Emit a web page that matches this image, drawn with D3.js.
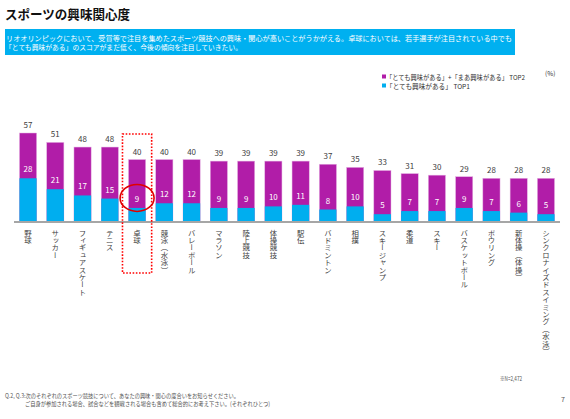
<!DOCTYPE html>
<html><head><meta charset="utf-8">
<script src="https://cdn.jsdelivr.net/npm/d3@7"></script>
<style>
body{margin:0;background:#fff;}
svg{display:block;font-family:"Noto Sans CJK JP","Noto Sans",sans-serif;}
</style></head>
<body>
<svg id="c" width="570" height="419"></svg>
<script>
const categories = ["野球","サッカー","フィギュアスケート","テニス","卓球","競泳（水泳）","バレーボール","マラソン","陸上競技","体操競技","駅伝","バドミントン","相撲","スキージャンプ","柔道","スキー","バスケットボール","ボウリング","新体操（体操）","シンクロナイズドスイミング（水泳）"];
const top2 = [57,51,48,48,40,40,40,39,39,39,39,37,35,33,31,30,29,28,28,28];
const top1 = [28,21,17,15,9,12,12,9,9,10,11,8,10,5,7,7,9,7,6,5];
const legendLabels = ["「とても興味がある」+「まあ興味がある」 TOP2","「とても興味がある」 TOP1"];

const PURPLE = "#B11DA8", CYAN = "#00AEEF";
const svg = d3.select("#c");

function txt(x, y, size, fill, s, len, weight){
  const t = svg.append("text").attr("x",x).attr("y",y).attr("font-size",size).attr("fill",fill).text(s);
  if (len) t.attr("textLength",len).attr("lengthAdjust","spacingAndGlyphs");
  if (weight) t.attr("font-weight",weight);
  return t;
}

// Title
txt(5,19,13,"#111","スポーツの興味関心度",125,"bold");
// Blue box
svg.append("rect").attr("x",5).attr("y",29).attr("width",510).attr("height",26).attr("fill","#00B0F0");
txt(6,41,7.2,"#fff","リオオリンピックにおいて、受賞等で注目を集めたスポーツ競技への興味・関心が高いことがうかがえる。卓球においては、若手選手が注目されている中でも",506);
txt(5,50,7.2,"#fff","「とても興味がある」のスコアがまだ低く、今後の傾向を注目していきたい。",237);

// Legend
[PURPLE, CYAN].forEach((c,i)=>{
  svg.append("rect").attr("x",382).attr("y",74.5+i*9).attr("width",4).attr("height",4).attr("fill",c);
  txt(386,79.5+i*9,6.8,"#333",legendLabels[i], i===0?139:84);
});
txt(545,76,6.5,"#333","(%)");

// Scales
const baseY = 222;
const x = d3.scaleBand().domain(categories).range([14,560]).paddingInner(0.37).paddingOuter(0.2);
const y = d3.scaleLinear().domain([0,57]).range([baseY, baseY-89]);

const g = svg.append("g");
g.selectAll(".b2").data(categories).join("rect")
  .attr("x",d=>x(d)).attr("width",x.bandwidth())
  .attr("y",(d,i)=>y(top2[i])).attr("height",(d,i)=>baseY-y(top2[i]))
  .attr("fill",PURPLE).attr("stroke","#E6B3E3").attr("stroke-width",0.5);
g.selectAll(".b1").data(categories).join("rect")
  .attr("x",d=>x(d)).attr("width",x.bandwidth())
  .attr("y",(d,i)=>y(top1[i])).attr("height",(d,i)=>baseY-y(top1[i]))
  .attr("fill",CYAN);

// Axis
const axis = d3.axisBottom(x).tickSize(0).tickFormat("");
const ax = svg.append("g").attr("transform",`translate(0,${baseY})`).call(axis);
ax.select(".domain").attr("stroke","#A6A6A6").attr("stroke-width",2).attr("d","M14,0H560");

// Value labels
g.selectAll(".t2").data(categories).join("text")
  .attr("x",d=>x(d)+x.bandwidth()/2).attr("y",(d,i)=>y(top2[i])-5)
  .attr("text-anchor","middle").attr("font-size",8).attr("fill","#404040").text((d,i)=>top2[i]);
g.selectAll(".t1").data(categories).join("text")
  .attr("x",d=>x(d)+x.bandwidth()/2).attr("y",(d,i)=>y(top1[i])-6)
  .attr("text-anchor","middle").attr("font-size",8).attr("fill","#fff").text((d,i)=>top1[i]);

// Category labels (vertical)
g.selectAll(".cl").data(categories).join("text")
  .attr("x",d=>x(d)+x.bandwidth()/2).attr("y",229)
  .attr("font-size",7.4).attr("fill","#404040")
  .style("writing-mode","vertical-rl").style("text-orientation","mixed")
  .text(d=>d);

// Highlight for 卓球
const hx = x("卓球"), bw = x.bandwidth();
svg.append("rect").attr("x",hx-6).attr("y",134).attr("width",bw+12).attr("height",139)
  .attr("fill","none").attr("stroke","#FF0000").attr("stroke-width",1.6).attr("stroke-dasharray","1.6,1.6");
svg.append("ellipse").attr("cx",hx+bw/2).attr("cy",y(top1[4])-10).attr("rx",17).attr("ry",13.5)
  .attr("fill","none").attr("stroke","#E00000").attr("stroke-width",1.6);

// Footer
txt(500,381,6.5,"#555","※N=2,472",22);
txt(5,398,6.2,"#555","Q.2, Q.3:次のそれぞれのスポーツ競技について、あなたの興味・関心の度合いをお知らせください。",234);
txt(25,406,6.2,"#555","ご自身が参加される場合、試合などを観戦される場合も含めて総合的にお考え下さい。(それぞれひとつ)",245);
txt(561,402,7,"#555","7");
</script>
</body></html>
